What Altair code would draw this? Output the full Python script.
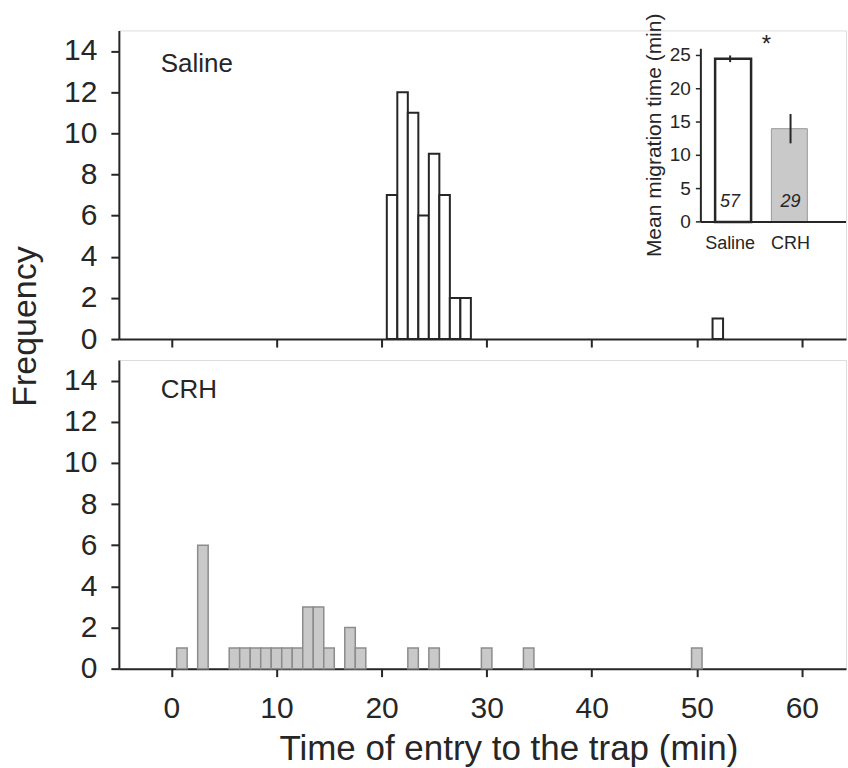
import altair as alt
import pandas as pd

# ---------------- data ----------------
saline_time = [21, 22, 23, 24, 25, 26, 27, 28, 52]
saline_freq = [7, 12, 11, 6, 9, 7, 2, 2, 1]
crh_time = [1, 3, 6, 7, 8, 9, 10, 11, 12, 13, 14, 15, 17, 18, 23, 25, 30, 34, 50]
crh_freq = [1, 6, 1, 1, 1, 1, 1, 1, 1, 3, 3, 1, 2, 1, 1, 1, 1, 1, 1]
x_tick_values = [0, 10, 20, 30, 40, 50, 60]
y_tick_values = [0, 2, 4, 6, 8, 10, 12, 14]

inset_group = ["Saline", "CRH"]
inset_pos = [1, 2]
inset_mean = [24.5, 14.0]
inset_sem = [0.5, 2.2]
inset_n = ["57", "29"]
inset_tick_values = [0, 5, 10, 15, 20, 25]

# ---------------- layout / style ----------------
FONT = "Liberation Sans"
INK = "#262626"
PANEL_W = 728
PANEL_H = 309
X_DOMAIN = [-5, 64.2]
Y_DOMAIN = [0, 15]

INSET_X_DOMAIN = [0.516, 2.918]
INSET_X_RANGE = [582.7, 728]
INSET_Y_DOMAIN = [0, 26]
INSET_Y_RANGE = [191.7, 18.4]

xscale = alt.Scale(domain=X_DOMAIN, nice=False, zero=False)
yscale = alt.Scale(domain=Y_DOMAIN, nice=False, zero=False)

common_axis = dict(
    grid=False, domainColor=INK, domainWidth=2, tickColor=INK, tickWidth=2,
    tickSize=8, labelColor=INK, titleColor=INK, labelFont=FONT, titleFont=FONT,
    titleFontWeight="normal",
)


def hist(times, freqs, fill, stroke, sw, top):
    df = pd.DataFrame({"time": times, "freq": freqs})
    if top:
        ax_x = alt.Axis(values=x_tick_values, labels=False, title=None, **common_axis)
        ax_y = alt.Axis(values=y_tick_values, labelFontSize=30, labelPadding=14,
                        title="Frequency", titleFontSize=34, titleX=-76, titleY=296,
                        **common_axis)
    else:
        ax_x = alt.Axis(values=x_tick_values, labelFontSize=30, labelPadding=17,
                        title="Time of entry to the trap (min)", titleFontSize=35,
                        titlePadding=8, titleX=390, **common_axis)
        ax_y = alt.Axis(values=y_tick_values, labelFontSize=30, labelPadding=14,
                        title=None, **common_axis)
    return (
        alt.Chart(df)
        .transform_calculate(t0="datum.time - 0.5", t1="datum.time + 0.5", base="0")
        .mark_bar(fill=fill, stroke=stroke, strokeWidth=sw)
        .encode(
            x=alt.X("t0:Q", scale=xscale, axis=ax_x),
            x2="t1:Q",
            y=alt.Y("freq:Q", scale=yscale, axis=ax_y),
            y2="base:Q",
        )
    )


def panel_label(text, ypix):
    return (
        alt.Chart(pd.DataFrame({"label": [text]}))
        .mark_text(align="left", baseline="middle", fontSize=26, font=FONT, color=INK)
        .encode(text="label:N", x=alt.value(42), y=alt.value(ypix))
    )


# ---------------- inset ----------------
def ix_enc(field):
    return alt.X(field, scale=alt.Scale(domain=INSET_X_DOMAIN, range=INSET_X_RANGE,
                                        nice=False, zero=False), axis=None)


def iy_enc(field):
    return alt.Y(field, scale=alt.Scale(domain=INSET_Y_DOMAIN, range=INSET_Y_RANGE,
                                        nice=False, zero=False), axis=None)


inset_df = pd.DataFrame({"group": inset_group, "pos": inset_pos, "mean": inset_mean,
                         "sem": inset_sem, "n": inset_n})
inset_base = alt.Chart(inset_df).transform_calculate(
    base="0", lo="datum.mean - datum.sem", hi="datum.mean + datum.sem"
)

bars = inset_base.mark_bar(size=36).encode(
    x=ix_enc("pos:Q"),
    y=iy_enc("mean:Q"),
    y2="base:Q",
    fill=alt.Fill("group:N", scale=alt.Scale(domain=inset_group, range=["#ffffff", "#c9c9c9"]), legend=None),
    stroke=alt.Stroke("group:N", scale=alt.Scale(domain=inset_group, range=[INK, "#9a9a9a"]), legend=None),
    strokeWidth=alt.StrokeWidth("group:N", scale=alt.Scale(domain=inset_group, range=[2.5, 1]), legend=None),
)

errs = inset_base.mark_rule(color=INK, strokeWidth=2).encode(
    x=ix_enc("pos:Q"),
    y=iy_enc("lo:Q"),
    y2="hi:Q",
)

n_text = inset_base.mark_text(fontStyle="italic", fontSize=18, font=FONT, color=INK,
                              baseline="middle", dy=-20).encode(
    x=ix_enc("pos:Q"),
    y=iy_enc("base:Q"),
    text="n:N",
)

cat_text = inset_base.mark_text(fontSize=18, font=FONT, color=INK, baseline="middle", dy=22).encode(
    x=ix_enc("pos:Q"),
    y=iy_enc("base:Q"),
    text="group:N",
)

axis_df = pd.DataFrame({"tick": inset_tick_values})
axis_df["xa"] = INSET_X_DOMAIN[0]
axis_base = alt.Chart(axis_df)

ticks = axis_base.mark_rule(color=INK, strokeWidth=1.5, x2Offset=-5).encode(
    x=ix_enc("xa:Q"),
    x2="xa:Q",
    y=iy_enc("tick:Q"),
)
tick_labels = axis_base.mark_text(align="right", baseline="middle", dx=-10, fontSize=19,
                                  font=FONT, color=INK).encode(
    x=ix_enc("xa:Q"),
    y=iy_enc("tick:Q"),
    text="tick:Q",
)

frame_df = pd.DataFrame({"x0": [INSET_X_DOMAIN[0]], "x1": [INSET_X_DOMAIN[1]],
                         "y0": [INSET_Y_DOMAIN[0]], "y1": [INSET_Y_DOMAIN[1]],
                         "title": ["Mean migration time (min)"],
                         "xm": [sum(inset_pos) / len(inset_pos)]})
frame_base = alt.Chart(frame_df).transform_calculate(ym="(datum.y0 + datum.y1) / 2")
y_line = frame_base.mark_rule(color=INK, strokeWidth=2).encode(
    x=ix_enc("x0:Q"),
    y=iy_enc("y0:Q"),
    y2="y1:Q",
)
x_line = frame_base.mark_rule(color=INK, strokeWidth=2).encode(
    x=ix_enc("x0:Q"),
    x2="x1:Q",
    y=iy_enc("y0:Q"),
)
inset_title = frame_base.mark_text(angle=270, fontSize=21, font=FONT, color=INK,
                                   baseline="middle", xOffset=-46).encode(
    x=ix_enc("x0:Q"),
    y=iy_enc("ym:Q"),
    text="title:N",
)
star = frame_base.mark_text(text="*", fontSize=24, font=FONT, color=INK,
                            baseline="middle", dx=6, dy=-4).encode(
    x=ix_enc("xm:Q"),
    y=iy_enc("y1:Q"),
)

# ---------------- panels ----------------
top = alt.layer(
    hist(saline_time, saline_freq, "#ffffff", INK, 2, True),
    panel_label("Saline", 34),
    bars, errs, n_text, cat_text, ticks, tick_labels, y_line, x_line, inset_title, star,
).resolve_scale(x="independent", y="independent").properties(width=PANEL_W, height=PANEL_H)

bottom = alt.layer(
    hist(crh_time, crh_freq, "#c9c9c9", "#8c8c8c", 1.5, False),
    panel_label("CRH", 30),
).properties(width=PANEL_W, height=PANEL_H)

chart = (
    alt.vconcat(top, bottom, spacing=21, bounds="flush")
    .properties(padding={"left": 8, "top": 12, "right": 0, "bottom": 0})
    .configure_view(stroke=None)
    .configure(background="white")
)

chart.save("out.html", embed_options={"renderer": "svg", "actions": False})
